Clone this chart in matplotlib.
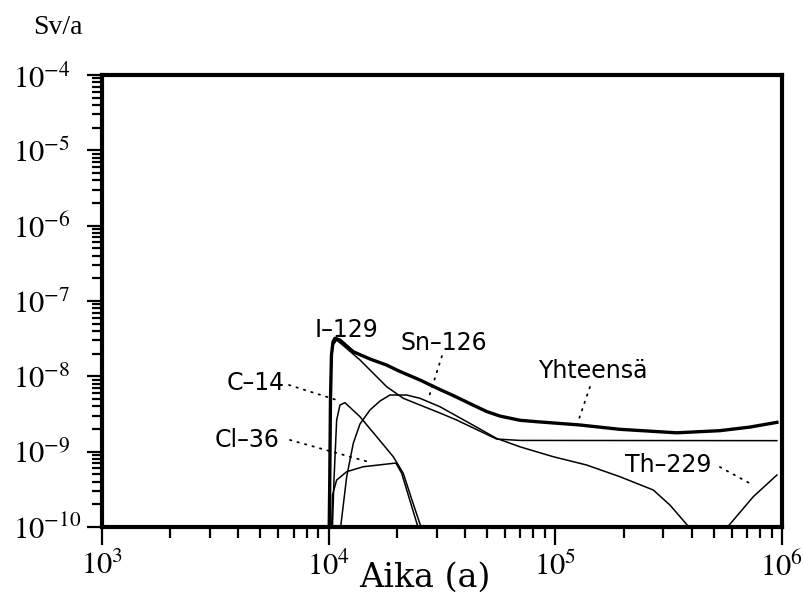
import numpy as np
import matplotlib
matplotlib.use("Agg")
import matplotlib.pyplot as plt
from matplotlib.ticker import LogLocator, FuncFormatter, NullFormatter

plt.rcParams['mathtext.fontset'] = 'stix'

# ---- data (years, Sv/a) ----
total_t = [10057, 10112, 10184, 10288, 10447, 10661, 11216, 12840, 15210, 18028,
           20633, 25280, 30968, 35442, 43303, 49783, 56950, 69821, 82708, 128410,
           192750, 342830, 532340, 721800, 949500]
total_v = [1.0e-10, 4.2e-10, 4.85e-9, 1.92e-8, 2.86e-8, 3.20e-8, 3.03e-8, 2.12e-8, 1.70e-8, 1.41e-8,
           1.16e-8, 8.94e-9, 6.68e-9, 5.56e-9, 4.16e-9, 3.41e-9, 2.97e-9, 2.61e-9, 2.50e-9, 2.26e-9,
           1.98e-9, 1.78e-9, 1.90e-9, 2.12e-9, 2.45e-9]

i129_t = [10057, 10184, 10288, 10447, 10846, 11802, 13745, 18028, 21337, 25280,
          30968, 36700, 55085, 70000, 949500]
i129_v = [1.0e-10, 4.85e-9, 1.65e-8, 2.60e-8, 3.03e-8, 2.45e-8, 1.65e-8, 7.28e-9, 5.11e-9, 4.16e-9,
          3.26e-9, 2.63e-9, 1.47e-9, 1.41e-9, 1.40e-9]

sn126_t = [11295, 12008, 12840, 13745, 15210, 16840, 18641, 22085, 25280, 30968,
           42010, 55085, 69821, 97900, 137440, 192750, 270400, 320200, 388500]
sn126_v = [1.0e-10, 4.65e-10, 1.29e-9, 2.33e-9, 3.57e-9, 4.70e-9, 5.65e-9, 5.65e-9, 5.11e-9, 3.95e-9,
           2.37e-9, 1.50e-9, 1.16e-9, 8.57e-10, 6.65e-10, 4.65e-10, 3.10e-10, 1.96e-10, 1.0e-10]

c14_t = [10393, 10554, 10846, 11216, 11802, 13745, 16284, 19275, 21337, 23310, 25540]
c14_v = [1.0e-10, 4.2e-10, 2.63e-9, 4.16e-9, 4.47e-9, 2.91e-9, 1.58e-9, 8.57e-10, 5.16e-10, 2.28e-10, 1.0e-10]

cl36_t = [10309, 10393, 10846, 12008, 14213, 19275, 19810, 20993, 24770]
cl36_v = [1.0e-10, 2.66e-10, 4.2e-10, 5.42e-10, 6.31e-10, 7.0e-10, 7.05e-10, 5.16e-10, 1.0e-10]

th229_t = [575000, 746400, 949500]
th229_v = [1.0e-10, 2.52e-10, 4.90e-10]

# labels: text, text anchor (t, v), leader start, leader end
label_names = ["I–129", "Sn–126", "Yhteensä", "C–14", "Cl–36", "Th–229"]
label_pos = [(11980, 3.33e-8), (32320, 2.24e-8), (145800, 9.41e-9),
             (4778, 6.58e-9), (4384, 1.16e-9), (313800, 5.42e-10)]
leader_from = [None, (31600, 1.86e-8), (142100, 7.22e-9),
               (6683, 7.67e-9), (6750, 1.43e-9), (532300, 6.25e-10)]
leader_to = [None, (27420, 4.85e-9), (125800, 2.47e-9),
             (11216, 4.70e-9), (15060, 7.29e-10), (744000, 3.61e-10)]

# ---- figure ----
fig = plt.figure(figsize=(8.04, 6.04), dpi=100)
ax = fig.add_axes([102 / 804, 77 / 604, 680 / 804, 452 / 604])
ax.set_xscale('log')
ax.set_yscale('log')
ax.set_xlim(1e3, 1e6)
ax.set_ylim(1e-10, 1e-4)

thin = 1.1
ax.plot(cl36_t, cl36_v, color='black', lw=thin)
ax.plot(c14_t, c14_v, color='black', lw=thin)
ax.plot(sn126_t, sn126_v, color='black', lw=thin)
ax.plot(i129_t, i129_v, color='black', lw=thin)
ax.plot(th229_t, th229_v, color='black', lw=thin)
ax.plot(total_t, total_v, color='black', lw=2.4, solid_joinstyle='round')

for name, pos, p0, p1 in zip(label_names, label_pos, leader_from, leader_to):
    ax.text(pos[0], pos[1], name, ha='center', va='baseline', fontsize=17,
            family='DejaVu Sans', color='black')
    if p0 is not None:
        ax.plot([p0[0], p1[0]], [p0[1], p1[1]], color='black', lw=1.3,
                linestyle=(0, (0.8, 3.5)), dash_capstyle='round')

for s in ax.spines.values():
    s.set_linewidth(3)

for axis in (ax.xaxis, ax.yaxis):
    axis.set_major_locator(LogLocator(base=10, numticks=20))
    axis.set_minor_locator(LogLocator(base=10, subs=np.arange(2, 10), numticks=200))
    axis.set_minor_formatter(NullFormatter())
    axis.set_major_formatter(FuncFormatter(lambda v, p: r'$10^{%d}$' % int(round(np.log10(v)))))

ax.tick_params(which='both', direction='out', top=False, right=False, width=1.6, labelsize=22)
ax.tick_params(axis='x', which='major', length=13, pad=4)
ax.tick_params(axis='x', which='minor', length=8)
ax.tick_params(axis='y', which='major', length=11, pad=53)
ax.tick_params(axis='y', which='minor', length=7)
for lbl in ax.get_yticklabels():
    lbl.set_horizontalalignment('left')

fig.text(425 / 804, 1 - 578 / 604, 'Aika (a)', ha='center', va='center',
         family='DejaVu Serif', fontsize=24)
fig.text(58 / 804, 1 - 27 / 604, 'Sv/a', ha='center', va='center',
         family='Liberation Serif', fontsize=20)

fig.savefig('out.png', dpi=100, facecolor='white')
